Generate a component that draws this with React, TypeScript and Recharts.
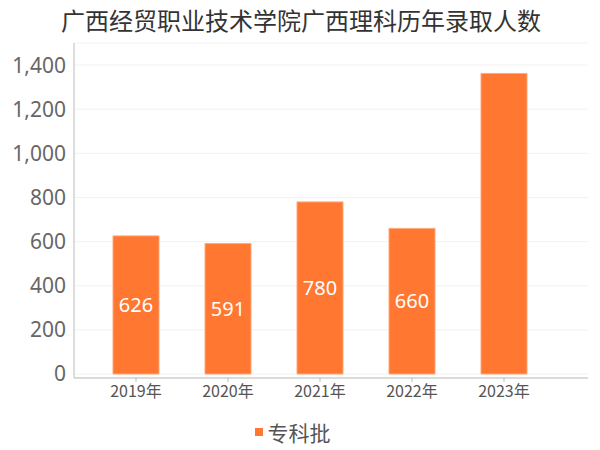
import React from 'react';
import { BarChart, Bar, XAxis, YAxis, CartesianGrid, Legend, LabelList } from 'recharts';

const categories = ['2019年', '2020年', '2021年', '2022年', '2023年'];
const values = [626, 591, 780, 660, 1362];
const labels: (number | null)[] = [626, 591, 780, 660, null];
const yTicks = [0, 200, 400, 600, 800, 1000, 1200, 1400];
const seriesName = '专科批';
const title = '广西经贸职业技术学院广西理科历年录取人数';

const data = categories.map((c, i) => ({ name: c, value: values[i], label: labels[i] }));

const LegendContent = () => (
  <div style={{ display: 'flex', alignItems: 'center', justifyContent: 'center', fontFamily: '"Noto Sans CJK SC", sans-serif', fontSize: 21, color: '#555', lineHeight: '28px' }}>
    <span style={{ display: 'inline-block', width: 8, height: 8, background: '#ff7730', marginRight: 5 }} />
    <span>{seriesName}</span>
  </div>
);

export default function App() {
  return (
    <div style={{ position: 'absolute', left: 0, top: 0, width: 600, height: 450, background: '#fff' }}>
      <div style={{ position: 'absolute', left: 0, top: 5, width: 602, textAlign: 'center', fontFamily: '"Noto Sans CJK SC", sans-serif', fontSize: 24, color: '#333', lineHeight: '30px' }}>
        {title}
      </div>
      <BarChart width={600} height={450} data={data} margin={{ top: 43, right: 12, left: 0, bottom: 42 }}>
        <CartesianGrid horizontal vertical={false} stroke="#f2f2f2" />
        <XAxis
          dataKey="name"
          height={30}
          padding={{ left: 16, right: 38 }}
          axisLine={{ stroke: '#bbb' }}
          tickLine={{ stroke: '#bbb' }}
          tickSize={4}
          tickMargin={4}
          tick={{ fill: '#555', fontSize: 16, fontFamily: '"Noto Sans CJK SC", sans-serif' }}
        />
        <YAxis
          width={74}
          domain={[-18, 1500]}
          ticks={yTicks}
          interval={0}
          allowDataOverflow
          axisLine={{ stroke: '#bbb' }}
          tickLine={false}
          tickFormatter={(v: number) => v.toLocaleString('en-US')}
          tick={{ fill: '#666', fontSize: 21, fontFamily: '"Noto Sans", sans-serif' }}
        />
        <Legend verticalAlign="middle" align="center" layout="horizontal" content={LegendContent} wrapperStyle={{ top: 418, left: 0, width: 585 }} />
        <Bar dataKey="value" name={seriesName} fill="#ff7730" stroke="#ffa878" strokeWidth={1} barSize={46} isAnimationActive={false}>
          <LabelList dataKey="label" position="center" fill="#fff" fontSize={20} fontFamily='"Noto Sans", sans-serif' />
        </Bar>
      </BarChart>
    </div>
  );
}
